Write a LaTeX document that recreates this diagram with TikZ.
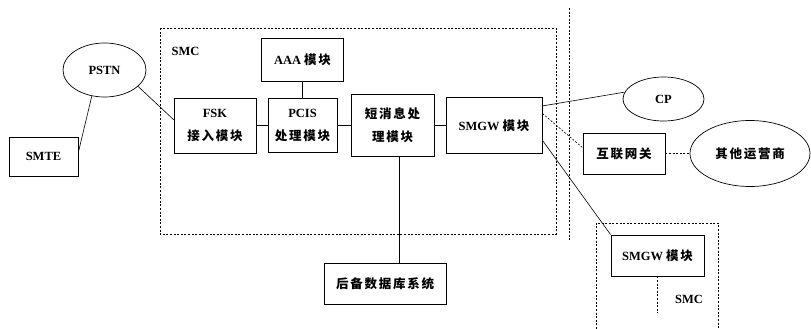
\documentclass[tikz,border=0pt]{standalone}
\usepackage{fontspec}
\setmainfont{Liberation Serif}
\newfontfamily\cjkfont[LetterSpace=14]{Noto Sans CJK SC}
\newcommand{\zhtext}[1]{{\cjkfont #1}}
\usetikzlibrary{shapes.geometric}
\begin{document}
\begin{tikzpicture}[x=1pt,y=-1pt,
  every node/.style={font=\fontsize{12.5}{23}\selectfont\bfseries, align=center, inner sep=0pt},
  box/.style={draw, line width=0.8pt, rectangle},
  oval/.style={draw, line width=0.7pt, ellipse},
  link/.style={line width=0.6pt},
  dlink/.style={line width=0.6pt, dash pattern=on 2pt off 1.6pt},
  frame/.style={line width=0.6pt, dash pattern=on 2pt off 1.6pt}]
\useasboundingbox (0,0) rectangle (811,329);
% frames
\draw[frame] (160,28) rectangle (556,234);
\draw[frame] (569,8) -- (569,240);
\draw[frame] (596,329) -- (596,223) -- (718,223) -- (718,329);
\node (smc1) at (185.5,51) {SMC};
\node (smc2) at (689,299) {SMC};
% nodes
\node[oval, minimum width=83pt, minimum height=54pt] (pstn) at (104.5,70) {PSTN};
\node[box, minimum width=69pt, minimum height=39pt] (smte) at (43.5,156.5) {SMTE};
\node[box, minimum width=82pt, minimum height=55pt] (fsk) at (215,125.5) {FSK\\\zhtext{接入模块}};
\node[box, minimum width=69pt, minimum height=54pt] (pcis) at (302.5,125.5) {PCIS\\\zhtext{处理模块}};
\node[box, minimum width=82pt, minimum height=43pt] (aaa) at (302.5,59.5) {AAA \zhtext{模块}};
\node[box, minimum width=83pt, minimum height=62pt] (msg) at (392.5,125.5) {\zhtext{短消息处}\\\zhtext{理模块}};
\node[box, minimum width=96pt, minimum height=56pt] (smgw) at (494,125.5) {SMGW \zhtext{模块}};
\node[box, minimum width=122pt, minimum height=41pt] (db) at (385,283.5) {\zhtext{后备数据库系统}};
\node[oval, minimum width=81pt, minimum height=44pt] (cp) at (663.5,99) {CP};
\node[box, minimum width=82pt, minimum height=41pt] (gw) at (624,153.5) {\zhtext{互联网关}};
\node[oval, minimum width=120pt, minimum height=66pt] (other) at (750,153.5) {\zhtext{其他运营商}};
\node[box, minimum width=93pt, minimum height=41pt] (smgw2) at (657.5,255.5) {SMGW \zhtext{模块}};
\coordinate (smgw2end) at (657.5,313);
% connectors
\draw[link] (pstn.244) -- (smte.7);
\draw[link] (pstn.-26) -- (fsk.172);
\draw[link] (fsk.east) -- (pcis.west);
\draw[link] (pcis.east) -- (msg.west);
\draw[link] (msg.east) -- (smgw.west);
\draw[link] (aaa.south) -- (pcis.north);
\draw[link] ([xshift=7pt]msg.south) -- ([xshift=7pt]msg.south |- db.north);
\draw[link] (smgw.22.6) -- (cp.170);
\draw[dlink] (smgw.14) -- (gw.172);
\draw[dlink] (gw.east) -- (other.west);
\draw[link] (smgw.-17.4) -- (smgw2.north west);
\draw[dlink] (smgw2.south) -- (smgw2end);
\end{tikzpicture}
\end{document}
